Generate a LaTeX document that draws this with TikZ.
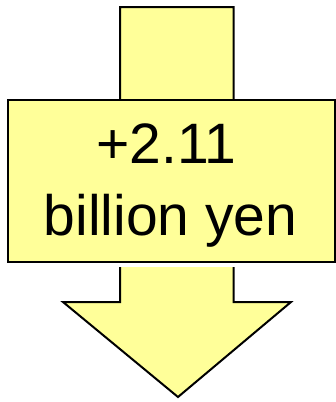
\documentclass[tikz,border=0pt]{standalone}
\usepackage{fontspec}
\setmainfont{Liberation Sans}
\definecolor{paleyellow}{RGB}{255,255,153}
\begin{document}
\begin{tikzpicture}[x=1pt,y=-1pt,
  shapestyle/.style={draw=black,line width=2pt,fill=paleyellow,line join=miter},
  bigtext/.style={font=\fontsize{57}{72}\selectfont,anchor=base,inner sep=0pt}]
\useasboundingbox (0,0) rectangle (336,402);
% arrow
\draw[shapestyle] (120,7) -- (233.5,7) -- (233.5,302) -- (291,302) -- (178,397) -- (63,302) -- (120,302) -- cycle;
% small white gap below the box
\fill[white] (118,261) rectangle (236,267);
% box
\node[shapestyle,inner sep=0pt,minimum width=327pt,minimum height=162pt,anchor=north west] (box) at (7,99) {};
\node[bigtext] (l1) at (166.5,163) {+2.11};
\node[bigtext] (l2) at (170.5,235) {billion yen};
\end{tikzpicture}
\end{document}
